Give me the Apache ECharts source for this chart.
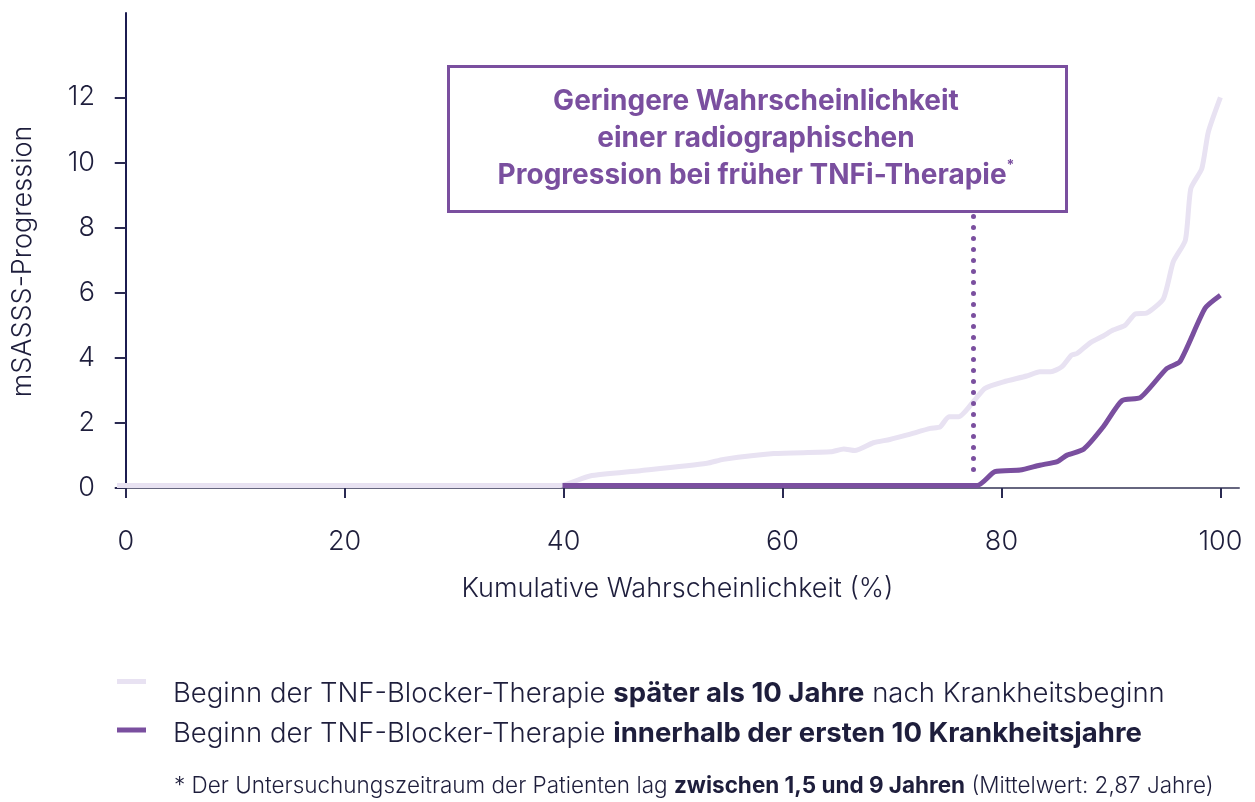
<!DOCTYPE html>
<html>
<head>
<meta charset="utf-8">
<script src="https://cdn.jsdelivr.net/npm/echarts@6/dist/echarts.min.js"></script>
<style>
html,body{margin:0;padding:0;background:#fff;}
#main{width:1255px;height:802px;}
</style>
</head>
<body>
<div id="main"></div>
<script>
// ---- Data ----
const lateX = [-0.8, 39.7, 42.4, 47, 53.1, 54.6, 59.2, 64.4, 65.6, 66.6, 68.3, 69.8, 71.4, 73.5, 74.4, 75.2, 76.1, 77.5, 78.5, 80.2, 82.3, 83.5, 84.5, 85.5, 86.4, 86.9, 88.1, 89.3, 90.2, 91.3, 92.2, 93.3, 94.8, 95.7, 96.8, 97.3, 98.3, 98.9, 100];
const lateY = [0.08, 0.08, 0.37, 0.53, 0.76, 0.88, 1.06, 1.11, 1.2, 1.15, 1.39, 1.49, 1.63, 1.83, 1.88, 2.19, 2.19, 2.68, 3.06, 3.26, 3.44, 3.57, 3.57, 3.72, 4.08, 4.13, 4.46, 4.67, 4.85, 5.0, 5.34, 5.38, 5.82, 6.95, 7.61, 9.2, 9.81, 10.94, 12.0];
const earlyX = [39.9, 77.8, 79.4, 81.7, 83.5, 85.1, 86.0, 87.5, 89.3, 91.0, 92.7, 95.1, 96.3, 98.6, 100];
const earlyY = [0.08, 0.08, 0.5, 0.55, 0.7, 0.81, 1.01, 1.19, 1.88, 2.68, 2.78, 3.67, 3.88, 5.52, 5.92];
const xTicks = [0, 20, 40, 60, 80, 100];
const yTicks = [0, 2, 4, 6, 8, 10, 12];
const markerX = 77.4;
const markerY = [0.57, 8.36];

const seriesNames = [
  'Beginn der TNF-Blocker-Therapie später als 10 Jahre nach Krankheitsbeginn',
  'Beginn der TNF-Blocker-Therapie innerhalb der ersten 10 Krankheitsjahre'
];
const legendRich = [
  ['Beginn der TNF-Blocker-Therapie ', 'später als 10 Jahre', ' nach Krankheitsbeginn'],
  ['Beginn der TNF-Blocker-Therapie ', 'innerhalb der ersten 10 Krankheitsjahre', '']
];
const boxLines = ['Geringere Wahrscheinlichkeit', 'einer radiographischen', 'Progression bei früher TNFi-Therapie'];
const footnote = ['* Der Untersuchungszeitraum der Patienten lag ', 'zwischen 1,5 und 9 Jahren', ' (Mittelwert: 2,87 Jahre)'];
const xName = 'Kumulative Wahrscheinlichkeit (%)';
const yName = 'mSASSS-Progression';

// ---- Styling ----
const FONT = 'Inter, Roboto, "Liberation Sans", sans-serif';
const TEXT = '#1e1e3c';
const PURPLE = '#7a4f9f';
const LIGHT = '#e8e2f2';
// legend icons: 29x30 box, bar placed at different heights (tiny corner dots fix the box)
const ICON_LATE = 'path://M0,0h0.01v0.01h-0.01z M28.99,29.99h0.01v0.01h-0.01z M0,0h29v5h-29z';
const ICON_EARLY = 'path://M0,0h0.01v0.01h-0.01z M28.99,29.99h0.01v0.01h-0.01z M0,8.5h29v5h-29z';

const zip = (xs, ys) => xs.map((x, i) => [x, ys[i]]);

const chart = echarts.init(document.getElementById('main'));
chart.setOption({
  animation: false,
  grid: { left: 116, right: 16, top: 13, bottom: 314 },
  xAxis: {
    type: 'value', min: -0.89, max: 101.7,
    splitLine: { show: false },
    axisLine: { show: true, onZero: false, lineStyle: { color: '#66667f', width: 2 } },
    axisTick: { show: true, length: 10, customValues: xTicks, lineStyle: { color: '#2a2a52', width: 2 } },
    axisLabel: { customValues: xTicks, margin: 40, fontSize: 27, fontFamily: FONT, fontWeight: 300, color: TEXT },
    name: xName, nameLocation: 'middle', nameGap: 87,
    nameTextStyle: { fontSize: 27, fontFamily: FONT, fontWeight: 300, color: TEXT }
  },
  yAxis: {
    type: 'value', min: 0, max: 14.59,
    splitLine: { show: false },
    axisLine: { show: true, lineStyle: { color: '#1c1c50', width: 2 } },
    axisTick: { show: true, length: 11, customValues: yTicks, lineStyle: { color: '#2a2a52', width: 2 } },
    axisLabel: { customValues: yTicks, margin: 21, fontSize: 27, fontFamily: FONT, fontWeight: 300, color: TEXT },
    name: yName, nameLocation: 'middle', nameGap: 80, nameRotate: 90,
    nameTextStyle: { fontSize: 27, fontFamily: FONT, fontWeight: 300, color: TEXT, padding: [0, 22, 0, 0] }
  },
  legend: {
    orient: 'vertical', left: 117, top: 679, itemGap: 10, padding: 0,
    itemWidth: 29, itemHeight: 30,
    data: [{ name: seriesNames[0], icon: ICON_LATE }, { name: seriesNames[1], icon: ICON_EARLY }],
    formatter: function (name) {
      const r = legendRich[seriesNames.indexOf(name)];
      return '{n|' + r[0] + '}{b|' + r[1] + '}' + (r[2] ? '{n|' + r[2] + '}' : '');
    },
    textStyle: {
      padding: [0, 0, 0, 22],
      rich: {
        n: { fontSize: 27.5, fontFamily: FONT, fontWeight: 300, color: TEXT, lineHeight: 30 },
        b: { fontSize: 27.5, fontFamily: FONT, fontWeight: 'bold', color: TEXT, lineHeight: 30 }
      }
    }
  },
  series: [
    {
      name: seriesNames[0], type: 'line', data: zip(lateX, lateY),
      symbol: 'none', smooth: 0.2,
      lineStyle: { color: LIGHT, width: 5 }, itemStyle: { color: LIGHT }
    },
    {
      name: seriesNames[1], type: 'line', data: zip(earlyX, earlyY),
      symbol: 'none', smooth: 0.2,
      lineStyle: { color: PURPLE, width: 5 }, itemStyle: { color: PURPLE },
      markLine: {
        silent: true, symbol: 'none', label: { show: false },
        lineStyle: { color: PURPLE, width: 5, type: [0, 11], cap: 'round' },
        data: [[{ coord: [markerX, markerY[0]] }, { coord: [markerX, markerY[1]] }]]
      }
    }
  ],
  graphic: [
    {
      type: 'rect', left: 447, top: 65,
      shape: { width: 618, height: 145 },
      style: { fill: '#fff', stroke: PURPLE, lineWidth: 3 }
    },
    {
      type: 'text',
      style: { x: 756, y: 101.5, align: 'center', verticalAlign: 'middle', text: boxLines[0],
        font: 'bold 28px ' + FONT, fill: PURPLE }
    },
    {
      type: 'text',
      style: { x: 756, y: 139, align: 'center', verticalAlign: 'middle', text: boxLines[1],
        font: 'bold 28px ' + FONT, fill: PURPLE }
    },
    {
      type: 'text',
      style: {
        x: 756, y: 176, align: 'center', verticalAlign: 'middle',
        text: '{t|' + boxLines[2] + '}{s|*}',
        rich: {
          t: { fontSize: 28, fontWeight: 'bold', fontFamily: FONT, fill: PURPLE, color: PURPLE, lineHeight: 34 },
          s: { fontSize: 14, fontWeight: 'bold', fontFamily: FONT, fill: PURPLE, color: PURPLE, verticalAlign: 'top', lineHeight: 34 }
        }
      }
    },
    {
      type: 'text',
      style: {
        x: 174, y: 786, verticalAlign: 'middle',
        text: '{n|' + footnote[0] + '}{b|' + footnote[1] + '}{n|' + footnote[2] + '}',
        rich: {
          n: { fontSize: 22.5, fontFamily: FONT, fontWeight: 300, fill: TEXT, color: TEXT },
          b: { fontSize: 22.5, fontFamily: FONT, fontWeight: 'bold', fill: TEXT, color: TEXT }
        }
      }
    }
  ]
});
</script>
</body>
</html>
